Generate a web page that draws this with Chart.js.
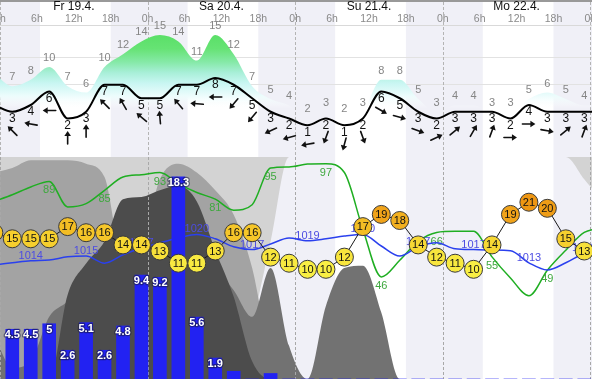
<!DOCTYPE html>
<html><head><meta charset="utf-8">
<script src="https://cdn.jsdelivr.net/npm/chart.js@4.4.1/dist/chart.umd.min.js"></script>
<style>
html,body{margin:0;padding:0;background:#fff;overflow:hidden;}
#wrap{position:relative;width:592px;height:382px;}
#c1{position:absolute;left:0;top:0;}
#c2{position:absolute;left:0;top:157px;}
</style></head><body>
<div id="wrap"><canvas id="c1" width="592" height="157"></canvas><canvas id="c2" width="592" height="225"></canvas></div>
<script>
// ---------- data ----------
const hours = [-1,2,5,8,11,14,17,20,23,26,29,32,35,38,41,44,47,50,53,56,59,62,65,68,71,74,77,80,83,86,89,92,95,98];
const tickHours = [0,6,12,18,24,30,36,42,48,54,60,66,72,78,84,90,96];
const dayHours = [12,36,60,84];
const dayLabels = ['Fr 19.4.','Sa 20.4.','Su 21.4.','Mo 22.4.'];
const dayBreaks = [0,24,48,72,96];
const nightStart = [-6,18,42,66,90];
const nightEnd = [6.5,30.5,54.5,78.5,102.5];
const windGridValues = [7,11];

const windSpeed = [4, 3,4,6,2,3,7,7,5,5,7,7,8,7,5,3,2, 1,2,1,2,6,5,3,2,3,3,3,2,4,3,3,3, 3];
const windGust  = [9, 7,8,10,7,6,10,12,14,15,14,11,15,12,7,5,4, 2,3,2,3,8,8,5,3,4,4,3,3,5,6,5,4, 4];
const windDir   = [120, 135,100,90,180,180,135,150,130,175,140,95,90,40,40,65,75, 80,20,15,340,300,285,290,245,230,210,200,270,270,280,230,200, 200];

const precip = [0, 4.5,4.5,5,2.6,5.1,2.6,4.8,9.4,9.2,18.3,5.6,1.9,0.7,0,0.5, 0,0,0,0,0,0,0,0,0,0,0,0,0,0,0,0,0, 0];
const temperature = [16, 15,15,15,17,16,16,14,14,13,11,11,13,16,16,12,11, 10,10,12,17,19,18,14,12,11,10,14,19,21,20,15,13, 12];
const humidity = [80, 83,86.5,89,77.5,79,85,91,92,93,88,84,81,76,78.5,95,95.5, 96.8,97,93,67.5,46,53.5,62,66,66.5,66.5,55,45.5,37.5,49,58,66, 68];
const pressure = [1012.8, 1013.3,1013.8,1014.0,1014.8,1015.0,1013.2,1015.3,1017.0,1018.3,1019.5,1020.4,1019.3,1017.3,1016.6,1018.0,1019.5, 1018.8,1019.3,1020.0,1020.4,1017.5,1015.0,1017.3,1018.3,1016.8,1016.6,1016.5,1016.3,1013.3,1011.5,1013.3,1015.7, 1017.0];

// cloud layers, % of panel height measured from the bottom
const cloudLightBase = [0,0,0,0,0,0,0,0,0,0,0,0,0,0, 25,62,100, 100,100,100,100,100,100,100,100,100,100,100,100,100,100,100, 90,80];
const cloudMedium = [93,95,98.5,98.5,98.5,97,91,55,60,90,97,93,85,74,50,10,0, 0,0,0,0,0,0,0,0,0,0,0,0,0,0,0,0,0];
const cloudLow = [20,5,8,28,35,45,55,60,65,65,65,60,50,40,28,50,15, 0,33,50,51,30,0, 0,0,0,0,0,0,0,0,0,0,0];
const cloudDark = [0,0,0,0,38,52,62,81,82,85,87,80,58,37,8,0, 0,0,0,0,0,0,0,0,0,0,0,0,0,0,0,0,0,0];

// ---------- helpers ----------
const FONT = "'Liberation Sans', Arial, sans-serif";
Chart.defaults.font.family = FONT;
const X_MAX = 96.26;
const pts = arr => hours.map((h,k)=>({x:h, y:arr[k]}));
const noPad = s => { s.paddingLeft = 0; s.paddingRight = 0; };

const tempStops = [[10,[249,239,68]],[13,[247,224,58]],[15,[246,207,46]],[17,[243,189,36]],[19,[240,163,26]],[21,[238,150,18]]];
function tempColor(t){
  if (t<=tempStops[0][0]) return 'rgb('+tempStops[0][1].join(',')+')';
  for (let i=1;i<tempStops.length;i++){
    if (t<=tempStops[i][0]){
      const [a,ca]=tempStops[i-1],[b,cb]=tempStops[i]; const f=(t-a)/(b-a);
      return 'rgb('+ca.map((c,j)=>Math.round(c+(cb[j]-c)*f)).join(',')+')';
    }
  }
  return 'rgb('+tempStops[tempStops.length-1][1].join(',')+')';
}

function drawArrow(ctx,x,y,dirFrom){
  const a=(dirFrom+180)*Math.PI/180, dx=Math.sin(a), dy=-Math.cos(a);
  const L=13, hl=5, hw=3.3;
  const tx=x+dx*L/2, ty=y+dy*L/2, sx=x-dx*L/2, sy=y-dy*L/2;
  ctx.beginPath(); ctx.moveTo(sx,sy); ctx.lineTo(tx-dx*hl*0.7, ty-dy*hl*0.7); ctx.stroke();
  ctx.beginPath(); ctx.moveTo(tx,ty);
  ctx.lineTo(tx-dx*hl-dy*hw, ty-dy*hl+dx*hw);
  ctx.lineTo(tx-dx*hl+dy*hw, ty-dy*hl-dx*hw);
  ctx.closePath(); ctx.fill();
}

function drawBands(chart, y0, y1){
  const {ctx, scales:{x}} = chart;
  ctx.save(); ctx.fillStyle='#f0f0f7';
  nightStart.forEach((s,i)=>{ const a=x.getPixelForValue(s), b=x.getPixelForValue(nightEnd[i]); ctx.fillRect(a,y0,b-a,y1-y0); });
  ctx.restore();
}
function drawDayLines(chart, y0, y1, color){
  const {ctx, scales:{x}} = chart;
  ctx.save(); ctx.strokeStyle=color; ctx.lineWidth=1; ctx.setLineDash([3,2]);
  dayBreaks.forEach(h=>{ const px=Math.round(x.getPixelForValue(h))+0.5; ctx.beginPath(); ctx.moveTo(px,y0); ctx.lineTo(px,y1); ctx.stroke(); });
  ctx.restore();
}

// ---------- top chart: wind ----------
let gustGrad=null;
const topPlugin = {
  id:'topDecor',
  beforeDraw(chart){
    drawBands(chart,0,chart.height);
    const ctx=chart.ctx; ctx.save(); ctx.fillStyle='#999'; ctx.fillRect(0,0,chart.width,2); ctx.restore();
  },
  beforeDatasetsDraw(chart){ drawDayLines(chart,2,chart.height,'#b4b4b4'); },
  afterDatasetsDraw(chart){
    const ctx=chart.ctx; const gm=chart.getDatasetMeta(0).data, wm=chart.getDatasetMeta(1).data;
    ctx.save(); ctx.textAlign='center'; ctx.textBaseline='middle';
    ctx.fillStyle='#111'; ctx.strokeStyle='#111'; ctx.lineWidth=1.6; ctx.lineCap='round';
    for (let k=1;k<hours.length-1;k++){
      ctx.font='11px '+FONT; ctx.fillStyle='#858585';
      ctx.fillText(String(windGust[k]), gm[k].x, gm[k].y-9);
      ctx.font='12px '+FONT; ctx.fillStyle='#111';
      ctx.fillText(String(windSpeed[k]), wm[k].x, wm[k].y+7);
      drawArrow(ctx, wm[k].x, wm[k].y+19, windDir[k]);
    }
    ctx.restore();
  }
};

new Chart(document.getElementById('c1'), {
  type:'line',
  data:{datasets:[
    {data:pts(windGust), yAxisID:'yg', borderColor:'rgba(0,0,0,0)', borderWidth:0, pointRadius:0, fill:'start', cubicInterpolationMode:'monotone', order:2,
     backgroundColor:(c)=>{
       const ch=c.chart; if(!ch.chartArea) return 'rgba(0,0,0,0)';
       if(!gustGrad){
         const y=ch.scales.yg; const t=y.getPixelForValue(16), b=y.getPixelForValue(3.5);
         const g=ch.ctx.createLinearGradient(0,t,0,b);
         g.addColorStop(0,'#55de62'); g.addColorStop(0.25,'#66e374'); g.addColorStop(0.42,'#86e9a8');
         g.addColorStop(0.55,'#a8efd8'); g.addColorStop(0.68,'#c8f6f2'); g.addColorStop(0.84,'#ecfcfc'); g.addColorStop(1,'rgba(255,255,255,0)');
         gustGrad=g;
       }
       return gustGrad;
     }},
    {data:pts(windSpeed), yAxisID:'y', borderColor:'#000', borderWidth:2, pointRadius:0, fill:false, cubicInterpolationMode:'monotone', order:1}
  ]},
  options:{
    responsive:false, animation:false, events:[],
    layout:{padding:0, autoPadding:false},
    plugins:{legend:{display:false}, tooltip:{enabled:false}},
    scales:{
      x:{type:'linear', position:'top', min:0, max:X_MAX, weight:0, offset:false,
         afterBuildTicks:s=>{s.ticks=tickHours.map(v=>({value:v}));}, afterFit:noPad,
         ticks:{autoSkip:false, maxRotation:0, padding:0, color:'#8a8a8a', font:{size:10.5, lineHeight:'12px'}, callback:v=>(v%24)+'h'},
         grid:{display:false, drawTicks:false, tickLength:0}, border:{display:true, color:'#d9d9d9'}},
      xd:{type:'linear', position:'top', min:0, max:X_MAX, weight:10, offset:false,
         afterBuildTicks:s=>{s.ticks=dayHours.map(v=>({value:v}));}, afterFit:noPad,
         ticks:{autoSkip:false, maxRotation:0, padding:0, color:'#111', font:{size:12, lineHeight:'13px'}, callback:(v,i)=>dayLabels[i]},
         grid:{display:false, drawTicks:false, tickLength:0}, border:{display:false}},
      y:{type:'linear', min:-3.704, max:15.852,
         afterBuildTicks:s=>{s.ticks=windGridValues.map(v=>({value:v}));},
         ticks:{display:false}, grid:{color:'#e2e2e2', drawTicks:false, tickLength:0}, border:{display:false}},
      yg:{type:'linear', display:false, min:-4.0625, max:16.5625}
    }
  },
  plugins:[topPlugin]
});

// ---------- bottom chart ----------
const botPlugin = {
  id:'botDecor',
  beforeDraw(chart){ drawBands(chart, chart.chartArea.top, chart.chartArea.bottom); },
  afterDatasetDraw(chart, args){
    const ds=chart.data.datasets[args.index]; const ctx=chart.ctx; const els=args.meta.data;
    if (ds.id==='cloudDark') drawDayLines(chart, chart.chartArea.top, chart.chartArea.bottom, '#a8a8a8');
    if (ds.id==='humidity'){
      ctx.save(); ctx.font='11px '+FONT; ctx.fillStyle='#3fa83f'; ctx.textAlign='center'; ctx.textBaseline='middle';
      for (let k=3;k<=30;k+=3) ctx.fillText(String(Math.round(humidity[k])), els[k].x, els[k].y+9);
      ctx.restore();
    }
    if (ds.id==='pressure'){
      ctx.save(); ctx.font='11px '+FONT; ctx.fillStyle='#4c4ce2'; ctx.textAlign='center'; ctx.textBaseline='middle';
      for (let k=2;k<=32;k+=3) ctx.fillText(String(Math.round(pressure[k])), els[k].x, els[k].y-5);
      ctx.restore();
    }
  },
  afterDatasetsDraw(chart){
    const ctx=chart.ctx; const bars=chart.getDatasetMeta(1).data; const tp=chart.getDatasetMeta(0).data;
    ctx.save(); ctx.textAlign='center'; ctx.textBaseline='middle';
    ctx.font='bold 11px '+FONT; ctx.lineJoin='round';
    precip.forEach((v,k)=>{
      if (v>=1){
        ctx.strokeStyle='rgba(25,25,70,0.55)'; ctx.lineWidth=2.5; ctx.strokeText(String(v), bars[k].x, bars[k].y+6);
        ctx.fillStyle='#fff'; ctx.fillText(String(v), bars[k].x, bars[k].y+6);
      }
    });
    ctx.font='11px '+FONT; ctx.fillStyle='#111';
    for (let k=1;k<hours.length-1;k++) ctx.fillText(String(temperature[k]), tp[k].x, tp[k].y+0.5);
    ctx.restore();
  }
};

const cloudDs = (id, arr, color, fill, order) => ({id, data:pts(arr), yAxisID:'yc', borderColor:'rgba(0,0,0,0)', borderWidth:0, pointRadius:0, backgroundColor:color, fill, cubicInterpolationMode:'monotone', order});

new Chart(document.getElementById('c2'), {
  type:'line',
  data:{datasets:[
    {id:'temp', data:pts(temperature), yAxisID:'yt', borderColor:'#1a1a1a', borderWidth:1, tension:0,
     pointRadius:9, pointBackgroundColor:temperature.map(tempColor), pointBorderColor:'#3a3a3a', pointBorderWidth:1, order:1},
    {id:'precip', type:'bar', data:pts(precip), yAxisID:'yp', backgroundColor:'#2222f2', borderWidth:0, barThickness:13, order:2},
    {id:'pressure', data:pts(pressure), yAxisID:'ypr', borderColor:'#2a40ee', borderWidth:1.5, pointRadius:0, cubicInterpolationMode:'monotone', fill:false, order:3},
    {id:'humidity', data:pts(humidity), yAxisID:'yc', borderColor:'#1fae22', borderWidth:1.5, pointRadius:0, cubicInterpolationMode:'monotone', fill:false, order:4},
    cloudDs('cloudDark', cloudDark, '#4c4c4c', 'start', 5),
    cloudDs('cloudLow', cloudLow, '#727272', 'start', 6),
    cloudDs('cloudMedium', cloudMedium, '#a3a3a3', 'start', 7),
    cloudDs('cloudLight', cloudLightBase, '#d3d3d3', 'end', 8)
  ]},
  options:{
    responsive:false, animation:false, events:[],
    layout:{padding:{left:0,right:0,top:0,bottom:3}, autoPadding:false},
    plugins:{legend:{display:false}, tooltip:{enabled:false}},
    scales:{
      x:{type:'linear', display:false, min:0, max:X_MAX, offset:false, grid:{offset:false}},
      yc:{type:'linear', display:false, min:0, max:100},
      yp:{type:'linear', display:false, min:0, max:20.09},
      yt:{type:'linear', display:false, min:-7.98, max:28.41},
      ypr:{type:'linear', display:false, min:984.25, max:1039.75}
    }
  },
  plugins:[botPlugin]
});
</script></body></html>
